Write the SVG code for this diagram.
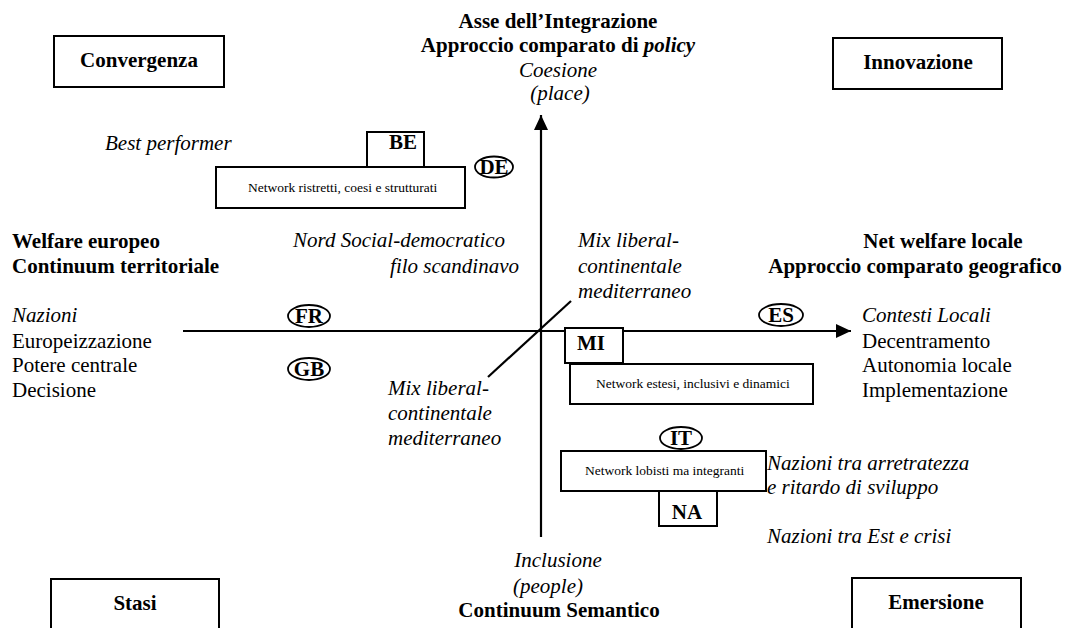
<svg xmlns="http://www.w3.org/2000/svg" width="1069" height="628" viewBox="0 0 1069 628">
  <style>
    text { font-family: "Liberation Serif", "Times New Roman", serif; fill: #000; }
    .b { font-weight: bold; font-size: 21px; }
    .i { font-style: italic; font-size: 21px; }
    .r { font-size: 21px; }
    .s { font-size: 13.5px; }
    .m { text-anchor: middle; }
    .box { fill: #fff; stroke: #000; stroke-width: 2; }
    .oval { fill: #fff; stroke: #000; stroke-width: 1.8; }
    .axis { stroke: #000; stroke-width: 2.2; fill: none; }
  </style>
  <defs>
    <marker id="arrow" markerUnits="userSpaceOnUse" markerWidth="16" markerHeight="14" refX="15" refY="7" orient="auto">
      <path d="M0,0 L15,7 L0,14 z" fill="#000"/>
    </marker>
  </defs>
  <rect width="1069" height="628" fill="#fff"/>

  <!-- axes and diagonal -->
  <g id="connectors">
    <line class="axis" x1="541" y1="537" x2="541" y2="115" marker-end="url(#arrow)"/>
    <line class="axis" x1="183" y1="331" x2="851" y2="331" marker-end="url(#arrow)"/>
    <line class="axis" x1="488" y1="377" x2="571" y2="301" stroke-width="2"/>
  </g>

  <!-- corner boxes -->
  <g id="convergenza">
    <rect class="box" x="54" y="36" width="170" height="51"/>
    <text class="b m" x="139" y="67">Convergenza</text>
  </g>
  <g id="innovazione">
    <rect class="box" x="833" y="38" width="169" height="51"/>
    <text class="b m" x="918" y="69">Innovazione</text>
  </g>
  <g id="stasi">
    <rect class="box" x="51" y="579" width="168" height="60"/>
    <text class="b m" x="135" y="610">Stasi</text>
  </g>
  <g id="emersione">
    <rect class="box" x="852" y="578" width="169" height="60"/>
    <text class="b m" x="936" y="609">Emersione</text>
  </g>

  <!-- axis titles -->
  <g id="top-label">
    <text class="b m" x="558" y="28">Asse dell’Integrazione</text>
    <text class="b m" x="558" y="52">Approccio comparato di <tspan font-style="italic">policy</tspan></text>
    <text class="i m" x="558" y="77">Coesione</text>
    <text class="i m" x="560" y="100">(place)</text>
  </g>
  <g id="bottom-label">
    <text class="i m" x="558" y="567">Inclusione</text>
    <text class="i m" x="548" y="593">(people)</text>
    <text class="b m" x="559" y="617">Continuum Semantico</text>
  </g>
  <g id="left-label">
    <text class="b" x="12" y="248">Welfare europeo</text>
    <text class="b" x="12" y="273">Continuum territoriale</text>
    <text class="i" x="12" y="322">Nazioni</text>
    <text class="r" x="12" y="348">Europeizzazione</text>
    <text class="r" x="12" y="372">Potere centrale</text>
    <text class="r" x="12" y="397">Decisione</text>
  </g>
  <g id="right-label">
    <text class="b m" x="943" y="248">Net welfare locale</text>
    <text class="b m" x="915" y="273">Approccio comparato geografico</text>
    <text class="i" x="862" y="322">Contesti Locali</text>
    <text class="r" x="862" y="348">Decentramento</text>
    <text class="r" x="862" y="372">Autonomia locale</text>
    <text class="r" x="862" y="397">Implementazione</text>
  </g>

  <!-- quadrant notes -->
  <g id="best-performer">
    <text class="i" x="105" y="150">Best performer</text>
  </g>
  <g id="nord">
    <text class="i" x="293" y="247">Nord Social-democratico</text>
    <text class="i" x="519" y="273" text-anchor="end">filo scandinavo</text>
  </g>
  <g id="mix-top">
    <text class="i" x="578" y="247">Mix liberal-</text>
    <text class="i" x="578" y="273">continentale</text>
    <text class="i" x="578" y="298">mediterraneo</text>
  </g>
  <g id="mix-bottom">
    <text class="i" x="388" y="395">Mix liberal-</text>
    <text class="i" x="388" y="420">continentale</text>
    <text class="i" x="388" y="445">mediterraneo</text>
  </g>
  <g id="nazioni-arretratezza">
    <text class="i" x="767" y="470">Nazioni tra arretratezza</text>
    <text class="i" x="767" y="494">e ritardo di sviluppo</text>
  </g>
  <g id="nazioni-est">
    <text class="i" x="767" y="543">Nazioni tra Est e crisi</text>
  </g>

  <!-- networks -->
  <g id="network-ristretti">
    <rect class="box" x="216" y="167" width="249" height="41"/>
    <text class="s" x="248" y="192">Network ristretti, coesi e strutturati</text>
  </g>
  <g id="be">
    <rect class="box" x="367" y="132" width="57" height="35"/>
    <text class="b" x="389" y="149">BE</text>
  </g>
  <g id="de">
    <ellipse class="oval" cx="494" cy="167" rx="19" ry="10.5"/>
    <text class="b m" x="494" y="174">DE</text>
  </g>
  <g id="fr">
    <ellipse class="oval" cx="309" cy="316" rx="21" ry="11"/>
    <text class="b m" x="309" y="323">FR</text>
  </g>
  <g id="gb">
    <ellipse class="oval" cx="309" cy="369" rx="21" ry="11"/>
    <text class="b m" x="309" y="376">GB</text>
  </g>
  <g id="es">
    <ellipse class="oval" cx="781" cy="315" rx="22" ry="11"/>
    <text class="b m" x="781" y="322">ES</text>
  </g>
  <g id="network-estesi">
    <rect class="box" x="570" y="364" width="243" height="40"/>
    <text class="s" x="596" y="388">Network estesi, inclusivi e dinamici</text>
  </g>
  <g id="mi">
    <rect class="box" x="565" y="328" width="58" height="35"/>
    <text class="b" x="577" y="350">MI</text>
  </g>
  <g id="network-lobisti">
    <rect class="box" x="561" y="451" width="205" height="40"/>
    <text class="s" x="585" y="475">Network lobisti ma integranti</text>
  </g>
  <g id="it">
    <ellipse class="oval" cx="681" cy="438" rx="21" ry="11"/>
    <text class="b m" x="681" y="445">IT</text>
  </g>
  <g id="na">
    <rect class="box" x="659" y="491" width="58" height="35"/>
    <text class="b m" x="687" y="519">NA</text>
  </g>
</svg>
